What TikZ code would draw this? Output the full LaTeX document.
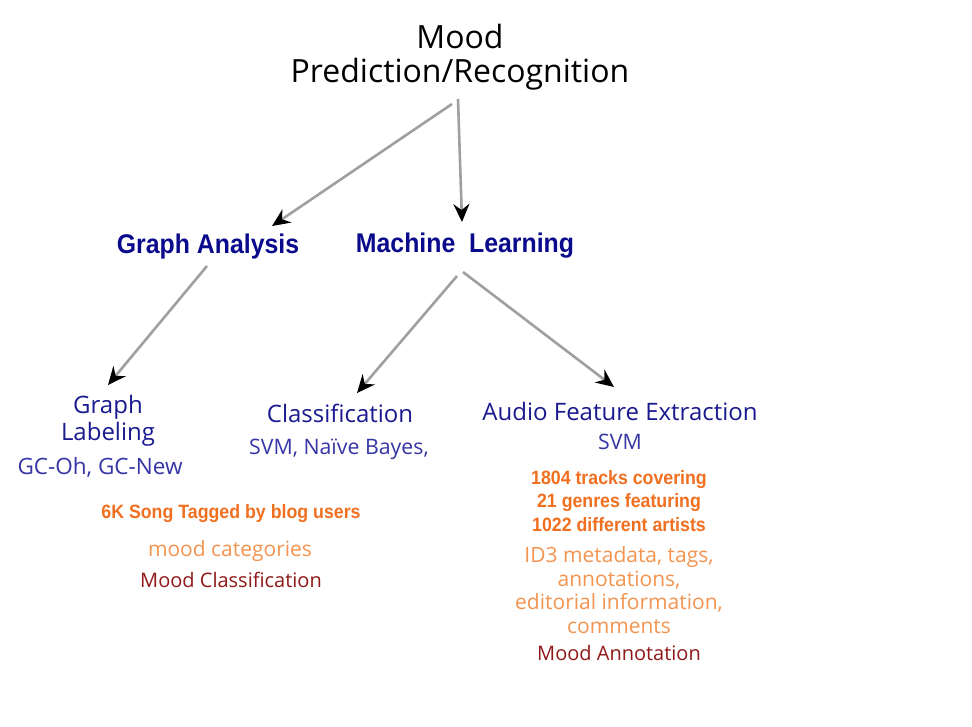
\documentclass[tikz,border=0pt]{standalone}
\usepackage{fontspec}
\setmainfont{Open Sans}
\newfontfamily\condfont[FakeStretch=0.92]{Liberation Sans}
\usetikzlibrary{arrows.meta}
\definecolor{navy}{HTML}{0A0A8C}
\definecolor{midblue}{HTML}{1A1A90}
\definecolor{lightblue}{HTML}{3535A5}
\definecolor{orangebold}{HTML}{F07020}
\definecolor{orangelight}{HTML}{F39450}
\definecolor{darkred}{HTML}{901818}
\definecolor{linegray}{HTML}{A0A0A0}
\tikzset{
  conn/.style={draw=linegray, line width=2.6pt, -{Stealth[black,length=18pt,width=16pt,inset=6pt]}},
  head/.style={font=\condfont\bfseries\fontsize{27}{30}\selectfont, text=navy, inner sep=0pt},
  sub/.style={font=\fontsize{24}{27}\selectfont, text=midblue, align=center, inner sep=0pt},
  meth/.style={font=\fontsize{21.3}{24}\selectfont, text=lightblue, align=center, inner sep=0pt},
  dataB/.style={font=\condfont\bfseries\fontsize{19.3}{23.3}\selectfont, text=orangebold, align=center, inner sep=0pt},
  dataL/.style={font=\fontsize{21}{23.5}\selectfont, text=orangelight, align=center, inner sep=0pt},
  task/.style={font=\fontsize{20}{22}\selectfont, text=darkred, align=center, inner sep=0pt},
}
\begin{document}
\begin{tikzpicture}[x=1pt,y=-1pt]
\path[use as bounding box, fill=white] (0,0) rectangle (972,726);
\node[font=\fontsize{32}{34}\selectfont, align=center, inner sep=0pt] (top) at (460,57) {Mood\\Prediction/Recognition};
\node[head] (ga) at (208,247) {Graph Analysis};
\node[head] (ml) at (465,246) {Machine\ \ Learning};
\node[sub] (gl) at (108,421) {Graph\\Labeling};
\node[meth, font=\fontsize{22.5}{24}\selectfont] (glm) at (100,467) {GC-Oh, GC-New};
\node[sub] (cl) at (340,413) {Classification};
\node[meth] (clm) at (339,449) {SVM, Naïve Bayes,};
\node[sub] (af) at (620,411) {Audio Feature Extraction};
\node[meth] (afm) at (620,442) {SVM};
\node[dataB] (d1) at (231,514) {6K Song Tagged by blog users};
\node[dataL] (d1l) at (230,551) {mood categories};
\node[task] (t1) at (231,580) {Mood Classification};
\node[dataB] (d2) at (619,501) {1804 tracks covering\\21 genres featuring\\1022 different artists};
\node[dataL] (d2l) at (619,590) {ID3 metadata, tags,\\annotations,\\editorial information,\\comments};
\node[task] (t2) at (619,653) {Mood Annotation};
\coordinate (s1) at (458,99);
\coordinate (s2) at (452,104);
\coordinate (e1) at (462,222);
\coordinate (e2) at (272,226);
\coordinate (s3) at (207,266);
\coordinate (e3) at (108,385);
\coordinate (s4) at (457,276);
\coordinate (e4) at (357,393);
\coordinate (s5) at (463,272);
\coordinate (e5) at (614,387);
\draw[conn] (s1) -- (e1);
\draw[conn] (s2) -- (e2);
\draw[conn] (s3) -- (e3);
\draw[conn] (s4) -- (e4);
\draw[conn] (s5) -- (e5);
\end{tikzpicture}
\end{document}
